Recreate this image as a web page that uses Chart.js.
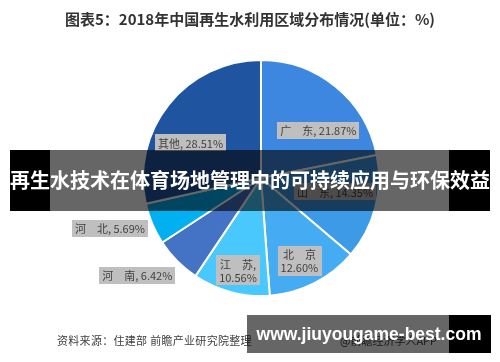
<!DOCTYPE html>
<html>
<head>
<meta charset="utf-8">
<script src="https://cdn.jsdelivr.net/npm/chart.js@4.4.1/dist/chart.umd.min.js"></script>
<style>
  body { margin: 0; background: #fff; font-family: "Noto Sans CJK SC", "Noto Sans", sans-serif; }
  #wrap { position: relative; width: 500px; height: 362px; overflow: hidden; }
  #chart { position: absolute; left: 0; top: 0; }
  .title { position: absolute; left: 0; width: 500px; top: 8px; text-align: center;
           font-size: 15px; font-weight: bold; color: #333; }
  .source { position: absolute; left: 57px; top: 332px; font-size: 11px; color: #404040; letter-spacing: 0.3px; }
  .app { position: absolute; left: 340px; top: 332px; font-size: 11px; color: #404040; }
  .banner { position: absolute; left: 10px; top: 150px; width: 480px; height: 61px; }
  .banner .mid { position: absolute; left: 40px; width: 399px; top: 0; bottom: 0; background: rgba(0,0,0,0.6); }
  .banner .l { position: absolute; left: 0; width: 40px; top: 0; bottom: 0; background: #000; }
  .banner .r { position: absolute; left: 439px; width: 41px; top: 0; bottom: 0; background: #000; }
  .banner .txt { position: absolute; left: 0; width: 480px; top: 16px; text-align: center; color: #fff;
                 font-size: 20px; font-weight: bold; line-height: 28px; white-space: nowrap; }
  .wm { position: absolute; left: 247px; top: 315px; width: 244px; height: 38px; }
  .wm .mid { position: absolute; left: 0; width: 202px; top: 0; bottom: 0; background: rgba(0,0,0,0.6); }
  .wm .r { position: absolute; left: 202px; width: 42px; top: 0; bottom: 0; background: #000; }
  .wm .txt { position: absolute; left: 0; width: 244px; top: 7px; text-align: center; color: #fff;
             font-family: "Liberation Sans", Arial, sans-serif; font-size: 17.5px; font-weight: bold; line-height: 24px; }
</style>
</head>
<body>
<div id="wrap">
  <canvas id="chart" width="500" height="362"></canvas>
  <div class="title">图表5：2018年中国再生水利用区域分布情况(单位：%)</div>
  <div class="source">资料来源：住建部 前瞻产业研究院整理</div>
  <div class="app">@前瞻经济学人APP</div>
  <div class="banner"><div class="l"></div><div class="mid"></div><div class="r"></div>
    <div class="txt">再生水技术在体育场地管理中的可持续应用与环保效益</div></div>
  <div class="wm"><div class="mid"></div><div class="r"></div>
    <div class="txt">www.jiuyougame-best.com</div></div>
</div>
<script>
// 2018 regional share of reclaimed water use (%)
const regions = ["广东", "山东", "北京", "江苏", "河南", "河北", "其他"];
const shares = [21.87, 14.35, 12.60, 10.56, 6.42, 5.69, 28.51];
const sliceColors = ["#3d87e0", "#3c9ae6", "#45abf2", "#48c8fc", "#4472c4", "#00b0f0", "#1f55a0"];

// label look: two-line labels and nudges from the default spot
const twoLine = ["北京", "江苏"];
const labelNudge = [[5, 16], [-6, -7], [1, 9], [-2, 12], [-65, 39], [-75, 18], [-6, 16]];

function labelLines(i) {
    let name = regions[i];
    if (name.length == 2 && name != "其他") name = name[0] + "\u3000" + name[1];
    let val = shares[i].toFixed(2) + "%";
    if (twoLine.indexOf(regions[i]) >= 0) {
        return [regions[i] == "北京" ? name : name + ",", val];
    }
    return [name + ", " + val];
}

const boxLabels = {
    id: "boxLabels",
    afterDatasetsDraw(chart) {
        const ctx = chart.ctx;
        const arcs = chart.getDatasetMeta(0).data;
        ctx.save();
        ctx.font = '11px "Noto Sans CJK SC", sans-serif';
        ctx.textBaseline = "middle";
        ctx.textAlign = "center";
        for (var i = 0; i < arcs.length; i++) {
            const p = arcs[i].getProps(["x", "y", "startAngle", "endAngle", "outerRadius"], true);
            const mid = (p.startAngle + p.endAngle) / 2;
            const cx = p.x + Math.cos(mid) * p.outerRadius * 0.7 + labelNudge[i][0];
            const cy = p.y + Math.sin(mid) * p.outerRadius * 0.7 + labelNudge[i][1];
            const lines = labelLines(i);
            var w = 0;
            for (var j = 0; j < lines.length; j++) w = Math.max(w, ctx.measureText(lines[j]).width);
            const lh = 13;
            const bw = w + 6, bh = lines.length * lh + 4;
            ctx.fillStyle = "#bfbfbf";
            ctx.fillRect(Math.round(cx - bw / 2), Math.round(cy - bh / 2), Math.round(bw), Math.round(bh));
            ctx.fillStyle = "#404040";
            for (var j = 0; j < lines.length; j++) {
                ctx.fillText(lines[j], cx, cy - (lines.length - 1) * lh / 2 + j * lh + 1);
            }
        }
        ctx.restore();
    }
};

new Chart(document.getElementById("chart"), {
    type: "pie",
    data: {
        labels: regions,
        datasets: [{
            data: shares,
            backgroundColor: sliceColors,
            borderColor: "#ffffff",
            borderWidth: 2
        }]
    },
    options: {
        responsive: false,
        animation: false,
        layout: { padding: { top: 59, bottom: 65, left: 142, right: 120 } },
        plugins: {
            legend: { display: false },
            tooltip: { enabled: false }
        }
    },
    plugins: [boxLabels]
});
</script>
</body>
</html>
